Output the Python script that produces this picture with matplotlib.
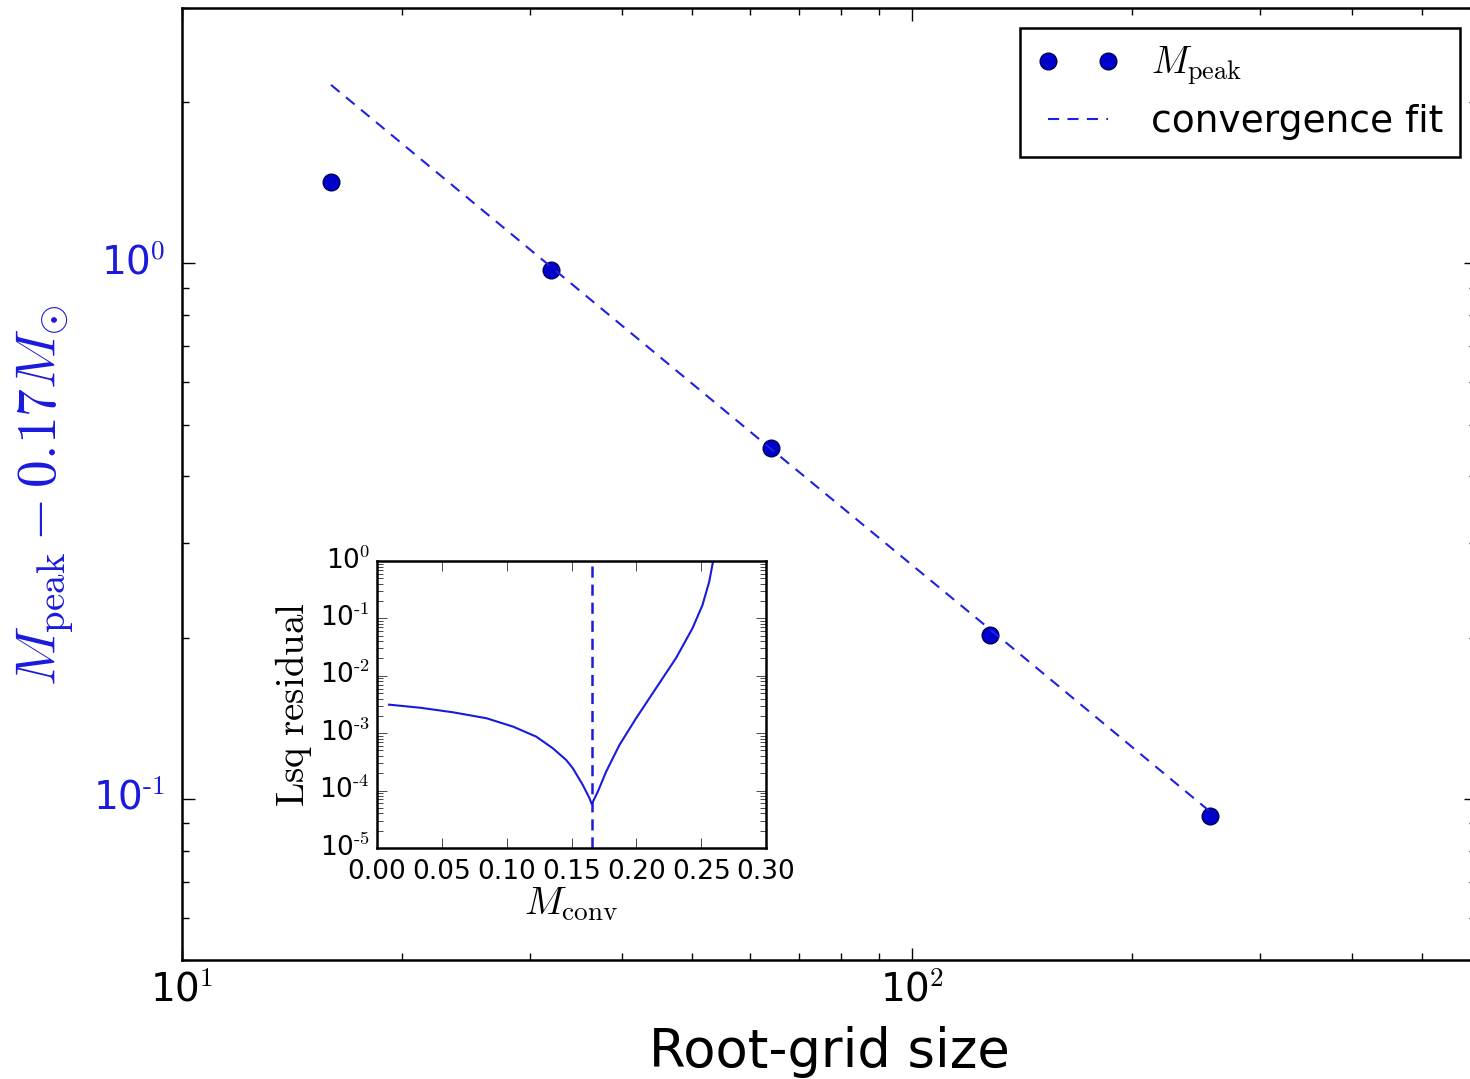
import matplotlib
matplotlib.use('Agg')
import matplotlib.pyplot as plt
from matplotlib.ticker import FuncFormatter
import numpy as np

# main panel: peak mass excess vs root-grid size
grid_size = [16, 32, 64, 128, 256]
mpeak_excess = [1.42, 0.974, 0.452, 0.202, 0.093]
fit_excess = [2.155, 0.986, 0.451, 0.207, 0.0946]

# inset: least-squares residual vs assumed converged mass
m_conv = [0.0092, 0.033, 0.0587, 0.0844, 0.1049, 0.1228, 0.1356, 0.1459, 0.151,
          0.1587, 0.1638, 0.1656, 0.1703, 0.1767, 0.1869, 0.1998, 0.2151, 0.2305,
          0.2433, 0.2510, 0.2562, 0.2592]
lsq_resid = [3.14e-3, 2.78e-3, 2.31e-3, 1.82e-3, 1.30e-3, 8.7e-4, 5.45e-4, 3.41e-4, 2.45e-4,
             1.25e-4, 7.4e-5, 5.8e-5, 9.6e-5, 2.14e-4, 6.2e-4, 1.82e-3, 6.05e-3, 2.02e-2,
             6.73e-2, 0.171, 0.436, 1.0]
m_best = 0.1656

plt.style.use('classic')
plt.rcParams['figure.facecolor'] = 'white'
plt.rcParams['savefig.facecolor'] = 'white'
plt.rcParams['mathtext.fontset'] = 'cm'
plt.rcParams['axes.unicode_minus'] = False

blue = '#1a1add'


# old-style log labels: 10^-1 with a plain hyphen
def pow10(v, pos):
    e = int(round(np.log10(v)))
    return r'$\mathdefault{10^{\text{%d}}}$' % e


fig = plt.figure(figsize=(14.7, 10.79), dpi=100)
ax = fig.add_axes([0.1238, 0.1103, 0.8803, 0.8823])

ax.plot(grid_size, mpeak_excess, 'o', color='#0000cc', mec='#000055', mew=1,
        ms=12, label=r'$M_{\rm peak}$')
ax.plot(grid_size, fit_excess, '--', color='#2020e0', lw=1.5, dashes=(8, 6),
        label='convergence fit')
ax.set_xscale('log')
ax.set_yscale('log')
ax.set_xlim(10, 592)
ax.set_ylim(0.05, 3.0)
ax.xaxis.set_major_formatter(FuncFormatter(pow10))
ax.yaxis.set_major_formatter(FuncFormatter(pow10))

ax.tick_params(which='major', length=9, width=1, labelsize=28)
ax.tick_params(axis='x', pad=8)
ax.tick_params(axis='y', pad=12, labelcolor=blue)
ax.tick_params(which='minor', length=5, width=1)
for s in ax.spines.values():
    s.set_linewidth(1.8)

ax.set_xlabel('Root-grid size', fontsize=38, labelpad=12)
ax.set_ylabel(r'$M_{\rm peak} - 0.17M_{\odot}$', fontsize=40, color=blue)
ax.yaxis.set_label_coords(-0.082, 0.488)

leg = ax.legend(loc='upper right', numpoints=2, fontsize=27, handlelength=2.2,
                borderpad=0.45, labelspacing=0.45, handletextpad=0.85,
                borderaxespad=0, fancybox=False, bbox_to_anchor=(0.9876, 0.979))
leg.get_frame().set_linewidth(1.8)
leg.get_frame().set_edgecolor('black')

# inset
axin = fig.add_axes([0.2565, 0.2141, 0.2646, 0.2660])
axin.plot(m_conv, lsq_resid, '-', color=blue, lw=1.5)
axin.axvline(m_best, color=blue, ls='--', lw=1.8, dashes=(8, 5))
axin.set_yscale('log')
axin.set_xlim(0, 0.30)
axin.set_ylim(1e-5, 1)
axin.set_xticks([0.00, 0.05, 0.10, 0.15, 0.20, 0.25, 0.30])
axin.yaxis.set_major_formatter(FuncFormatter(pow10))
axin.tick_params(which='major', length=7, labelsize=19)
axin.tick_params(axis='x', pad=8)
axin.tick_params(axis='y', pad=5)
axin.tick_params(which='minor', length=4)
for s in axin.spines.values():
    s.set_linewidth(1.8)
axin.set_xlabel(r'$M_{\rm conv}$', fontsize=28, labelpad=0)
axin.set_ylabel(r'$\rm Lsq\ residual$', fontsize=28, labelpad=4)

fig.savefig('out.png', dpi=100)
